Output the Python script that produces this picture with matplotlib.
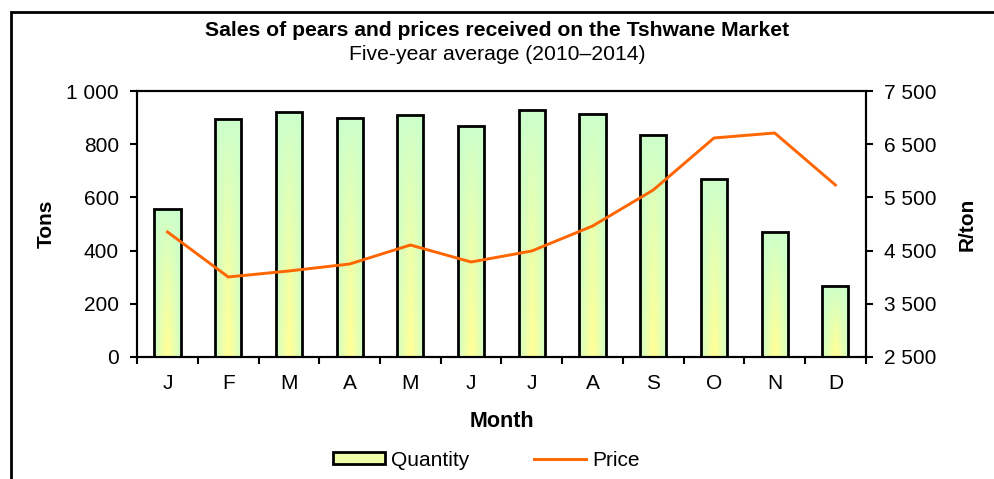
import numpy as np
import matplotlib.pyplot as plt
from matplotlib.patches import Rectangle, Patch
from matplotlib.lines import Line2D
from matplotlib.colors import to_rgb
from matplotlib.ticker import FuncFormatter

plt.rcParams['font.family'] = ['Liberation Sans', 'DejaVu Sans']

months = ['J', 'F', 'M', 'A', 'M', 'J', 'J', 'A', 'S', 'O', 'N', 'D']
quantity = [556, 895, 921, 899, 910, 868, 929, 914, 835, 669, 470, 267]
price = [4850, 4004, 4117, 4248, 4605, 4286, 4493, 4962, 5639, 6617, 6711, 5733]

green = np.array(to_rgb('#ccffcc'))
yellow = np.array(to_rgb('#ffff99'))

fig = plt.figure(figsize=(9.94, 4.79), dpi=100)
ax = fig.add_axes([0.138, 0.2547, 0.733, 0.5553])
ax2 = ax.twinx()

# gradient image for bars: yellow at bottom centre, green at edges/top
nx, ny = 40, 80
xs = np.linspace(0, 1, nx)
ys = np.linspace(0, 1, ny)
X, Y = np.meshgrid(xs, ys)
w = np.clip((1 - np.abs(X - 0.5) * 2) ** 0.8 * (1 - Y) ** 0.8 * 1.1, 0, 1)
grad = green[None, None, :] * (1 - w[..., None]) + yellow[None, None, :] * w[..., None]

width = 0.43
x = np.arange(len(months))
for xi, q in zip(x, quantity):
    ax.imshow(grad, extent=[xi - width / 2, xi + width / 2, 0, q], origin='lower',
              aspect='auto', zorder=2, interpolation='bilinear')
    ax.add_patch(Rectangle((xi - width / 2, 0), width, q, facecolor='none',
                           edgecolor='black', lw=2, zorder=3))

ax.set_xlim(-0.5, len(months) - 0.5)
ax.set_ylim(0, 1000)
ax.set_yticks(range(0, 1001, 200))
ax.set_xticks(x)
ax.set_xticklabels(months)
ax.set_xticks(np.arange(-0.5, len(months), 1), minor=True)
ax.tick_params(axis='x', which='major', length=0, pad=12, labelsize=15)
ax.tick_params(axis='x', which='minor', length=5, width=1.5, direction='out')
ax.tick_params(axis='y', length=5, width=1.5, direction='out', labelsize=15, pad=8)
fmt = FuncFormatter(lambda v, p: f'{int(v):,}'.replace(',', ' '))
ax.yaxis.set_major_formatter(fmt)

ax2.plot(x, price, color='#ff6600', lw=2.1, zorder=4)
ax2.set_ylim(2500, 7500)
ax2.set_yticks(range(2500, 7501, 1000))
ax2.yaxis.set_major_formatter(fmt)
ax2.tick_params(axis='y', length=5, width=1.5, direction='out', labelsize=15, pad=8)

for a in (ax, ax2):
    for s in a.spines.values():
        s.set_linewidth(1.5)

ax.set_ylabel('Tons', fontsize=15, fontweight='bold', labelpad=8)
ax2.set_ylabel('R/ton', fontsize=15, fontweight='bold', labelpad=15)
ax.set_xlabel('Month', fontsize=15.5, fontweight='bold', labelpad=13)

fig.text(0.5, 1 - 30 / 479, 'Sales of pears and prices received on the Tshwane Market',
         ha='center', va='center', fontsize=15.2, fontweight='bold')
fig.text(0.5, 1 - 54 / 479, 'Five-year average (2010–2014)',
         ha='center', va='center', fontsize=15.2)

handles = [Patch(facecolor='#eeffaa', edgecolor='black', lw=2),
           Line2D([], [], color='#ff6600', lw=2.1)]
fig.legend(handles, ['Quantity', 'Price'], loc='center', bbox_to_anchor=(0.4895, 1 - 460 / 479),
           ncol=2, frameon=False, fontsize=15, columnspacing=3.1, handlelength=2.5,
           handletextpad=0.3, handleheight=0.55)

# chart border
fig.add_artist(Rectangle((11 / 994, -0.05), 1.2, 1 - 12 / 479 + 0.05, transform=fig.transFigure,
                         facecolor='none', edgecolor='black', lw=2))

fig.savefig('out.png', dpi=100)
